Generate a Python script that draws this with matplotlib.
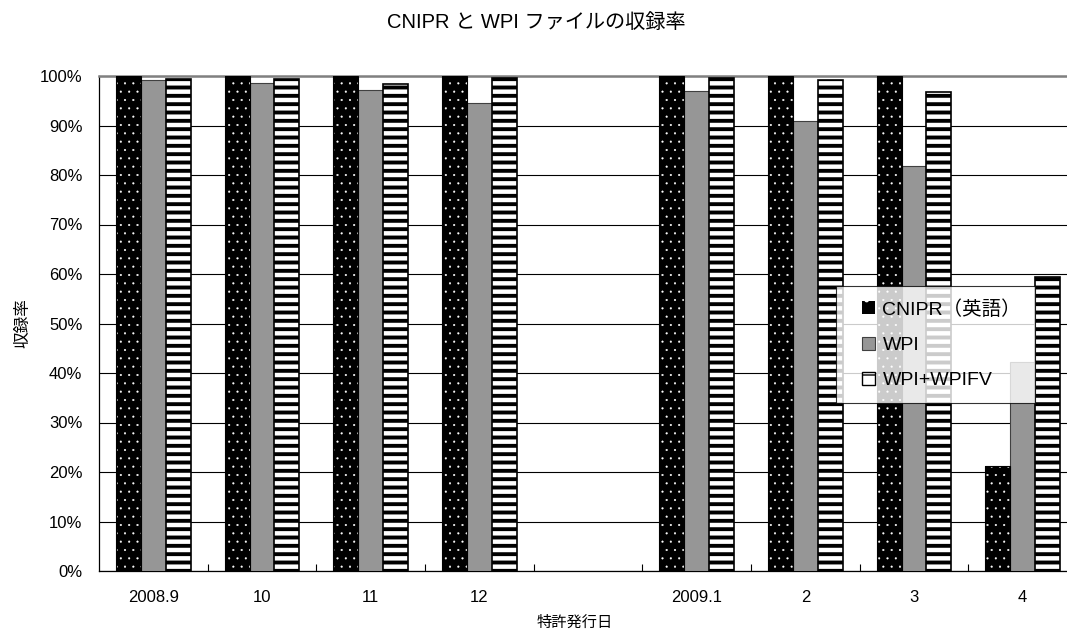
import numpy as np
import matplotlib
matplotlib.use('Agg')
import matplotlib.pyplot as plt
from matplotlib.ticker import FixedLocator, PercentFormatter
from matplotlib.patches import Patch, Rectangle
from matplotlib.legend_handler import HandlerPatch

plt.rcParams['font.family'] = ['Liberation Sans', 'Noto Sans CJK JP', 'DejaVu Sans']

# Dados (%)
categorias = ['2008.9', '10', '11', '12', '', '2009.1', '2', '3', '4']
cnipr = [100, 100, 100, 100, np.nan, 100, 100, 100, 21.2]
wpi = [99.1, 98.5, 97.2, 94.5, np.nan, 97.0, 90.9, 81.8, 42.3]
wpi_fv = [99.4, 99.4, 98.3, 99.5, np.nan, 99.6, 99.2, 96.7, 59.3]
legendas = ['CNIPR（英語）', 'WPI', 'WPI+WPIFV']


def barras_hachuradas(ax, x, y, w, lw_hatch, **kw):
    """Desenha barras com espessura própria da hachura"""
    with plt.rc_context({'hatch.linewidth': lw_hatch}):
        barras = ax.bar(x, y, w, **kw)
    for b in barras:
        if hasattr(b, 'set_hatch_linewidth'):
            b.set_hatch_linewidth(lw_hatch)
    return barras


def quadrado_direita(legend, orig_handle, xdescent, ydescent, width, height, fontsize):
    """Marcador quadrado encostado no texto"""
    return Rectangle((-xdescent + width - height, -ydescent), height, height)


fig = plt.figure(figsize=(10.67, 6.33), dpi=100)
# o eixo passa da borda direita, como no original
ax = fig.add_axes([99 / 1067, 62 / 633, 978 / 1067, 495 / 633])

x = np.arange(len(categorias))
w = 0.23

# CNIPR: preto com pontos brancos
barras_hachuradas(ax, x - w, cnipr, w, 0.3, color='black', edgecolor='white',
                  hatch='..', linewidth=0, zorder=3)
ax.bar(x - w, cnipr, w, fill=False, edgecolor='black', linewidth=0.8, zorder=4)
# WPI: cinza
ax.bar(x, wpi, w, color='#969696', edgecolor='#404040', linewidth=0.8, zorder=3)
# WPI+WPIFV: listras horizontais
barras_hachuradas(ax, x + w, wpi_fv, w, 2.8, color='white', edgecolor='black',
                  hatch='--', linewidth=0, zorder=3)
ax.bar(x + w, wpi_fv, w, fill=False, edgecolor='black', linewidth=1.2, zorder=4)

ax.set_xlim(-0.5, len(categorias) - 0.5)
ax.set_ylim(0, 100)
ax.set_xticks(x)
ax.set_xticklabels(categorias, fontsize=12)
ax.xaxis.set_minor_locator(FixedLocator(np.arange(0.5, len(categorias) - 0.5, 1)))
ax.tick_params(axis='x', which='major', length=0, pad=14)
ax.tick_params(axis='x', which='minor', direction='in', length=5, width=0.8)
ax.set_yticks(np.arange(0, 101, 10))
ax.yaxis.set_major_formatter(PercentFormatter(decimals=0))
ax.tick_params(axis='y', length=0, pad=12, labelsize=12)

ax.yaxis.grid(True, color='black', linewidth=0.8, zorder=0)
ax.set_axisbelow(True)
ax.spines['top'].set_color('#808080')
ax.spines['top'].set_linewidth(1.8)
ax.spines['left'].set_linewidth(0.9)
ax.spines['bottom'].set_linewidth(0.9)

ax.set_xlabel('特許発行日', fontsize=11)
ax.xaxis.set_label_coords((575 - 99) / 978, -0.09)
ax.set_ylabel('収録率', fontsize=12)
ax.yaxis.set_label_coords(-0.07, 0.5)

fig.text(0.503, 1 - 23 / 633, 'CNIPR と WPI ファイルの収録率', ha='center', va='center', fontsize=14.5)

handles = [
    Patch(facecolor='black', edgecolor='white', hatch='.', linewidth=0),
    Patch(facecolor='#969696', edgecolor='#404040', linewidth=0.8),
    Patch(facecolor='white', edgecolor='black', hatch='-', linewidth=1.0),
]
for h, lw in zip(handles, [0.4, 1.0, 1.5]):
    if hasattr(h, 'set_hatch_linewidth'):
        h.set_hatch_linewidth(lw)
leg = ax.legend(handles, legendas,
                loc='upper left', bbox_to_anchor=((836 - 99) / 978, (571 - 286) / 495),
                fontsize=14, frameon=True, fancybox=False, edgecolor='black',
                handlelength=1.31, handleheight=0.67, handletextpad=0.36,
                labelspacing=0.92, borderpad=0.72, borderaxespad=0,
                handler_map={Patch: HandlerPatch(patch_func=quadrado_direita)})
leg.get_frame().set_linewidth(0.8)
leg.set_zorder(10)

fig.savefig('out.png', dpi=100)
